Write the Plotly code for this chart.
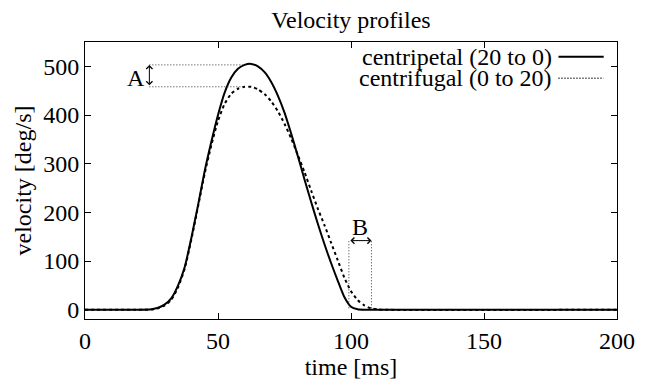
import plotly.graph_objects as go

# ---- data ----
t_cp = [0, 20, 25, 27.5, 30, 32.5, 35, 37.5, 40, 42.5, 45, 47.5, 50, 52.5, 55, 57.5, 60,
        62.5, 65, 67.5, 70, 72.5, 75, 77.5, 80, 82.5, 85, 87.5, 90, 92.5, 95, 97.5,
        100, 102.5, 105, 200]
v_cp = [0, 0, 1, 4, 11, 24, 50, 88, 148, 215, 285, 345, 400, 446, 477, 495, 503,
        505, 500, 488, 468, 440, 405, 362, 316, 268, 222, 177, 135, 96, 60, 26,
        6, 1, 0, 0]

t_cf = [0, 20, 25, 27.5, 30, 32.5, 35, 37.5, 40, 42.5, 45, 47.5, 50, 52.5, 55, 57.5, 60,
        62.5, 65, 67.5, 70, 72.5, 75, 77.5, 80, 82.5, 85, 87.5, 90, 92.5, 95, 97.5,
        100, 102.5, 105, 107.5, 110, 112.5, 200]
v_cf = [0, 0, 0.5, 3, 9, 21, 46, 85, 145, 212, 280, 338, 388, 423, 444, 454, 458,
        458, 453, 443, 428, 408, 382, 352, 318, 283, 245, 208, 174, 138, 102, 66,
        38, 20, 9, 3, 1, 0, 0]

x_ticks = [0, 50, 100, 150, 200]
y_ticks = [0, 100, 200, 300, 400, 500]

name_cp = "centripetal (20 to 0)"
name_cf = "centrifugal (0 to 20)"

# annotation markers
A_t, A_top, A_bot, A_end = 24.2, 503, 458, 60
A_label_t, A_label_v = 19, 477
B_left, B_right, B_v, B_base = 99.2, 107.7, 142, 3
B_label_t, B_label_v = 103.5, 170

FONT = "Liberation Serif"

fig = go.Figure()
fig.add_trace(go.Scatter(x=t_cp, y=v_cp, mode="lines", name=name_cp,
                         line=dict(color="black", width=2, shape="spline", smoothing=0.6),
                         showlegend=False))
fig.add_trace(go.Scatter(x=t_cf, y=v_cf, mode="lines", name=name_cf,
                         line=dict(color="black", width=2, dash="3px,3px", shape="spline", smoothing=0.6),
                         showlegend=False))

dot = dict(color="#333", width=1, dash="1px,2px")
# A guide lines
fig.add_shape(type="line", x0=A_t, x1=A_end, y0=A_top, y1=A_top, xref="x", yref="y", line=dot)
fig.add_shape(type="line", x0=A_t, x1=A_end, y0=A_bot, y1=A_bot, xref="x", yref="y", line=dot)
# B guide lines
fig.add_shape(type="line", x0=B_left, x1=B_left, y0=B_base, y1=B_v, xref="x", yref="y", line=dot)
fig.add_shape(type="line", x0=B_right, x1=B_right, y0=B_base, y1=B_v, xref="x", yref="y", line=dot)

# double arrows
arrow_style = dict(text="", showarrow=True, arrowside="end+start", arrowhead=4, startarrowhead=4,
                   arrowsize=1.2, startarrowsize=1.2, arrowwidth=1, arrowcolor="black",
                   standoff=0, startstandoff=0, axref="x", ayref="y", xref="x", yref="y")
fig.add_annotation(x=A_t, y=A_top, ax=A_t, ay=A_bot, **arrow_style)
fig.add_annotation(x=B_right, y=B_v, ax=B_left, ay=B_v, **arrow_style)
fig.add_annotation(x=A_label_t, y=A_label_v, text="A", showarrow=False,
                   font=dict(family=FONT, size=24, color="black"))
fig.add_annotation(x=B_label_t, y=B_label_v, text="B", showarrow=False,
                   font=dict(family=FONT, size=24, color="black"))

# manual legend (rows closer together than Plotly's legend allows)
leg_rows = [(name_cp, 0.947, dict(color="black", width=2)),
            (name_cf, 0.869, dict(color="black", width=1.5, dash="1px,2px"))]
for label, yy, ln in leg_rows:
    fig.add_annotation(x=0.882, y=yy, xref="paper", yref="paper", text=label, showarrow=False,
                       xanchor="right", yanchor="middle",
                       font=dict(family=FONT, size=24, color="black"))
    fig.add_shape(type="line", x0=0.89, x1=0.975, y0=yy, y1=yy, xref="paper", yref="paper", line=ln)

axis_common = dict(showline=True, linecolor="black", linewidth=1, mirror="ticks",
                   ticks="inside", ticklen=6, tickcolor="black", tickwidth=1,
                   showgrid=False, zeroline=False,
                   tickfont=dict(family=FONT, size=24, color="black"))

fig.update_layout(
    width=647, height=386,
    margin=dict(l=85, r=20, t=42, b=49),
    paper_bgcolor="white", plot_bgcolor="white",
    title=dict(text="Velocity profiles", x=0.5, xref="paper", xanchor="center",
               y=1 - 20 / 386, yref="container", yanchor="middle",
               font=dict(family=FONT, size=24, color="black")),
    xaxis=dict(range=[0, 200], tickvals=x_ticks, **axis_common,
               title=dict(text="time [ms]", standoff=3, font=dict(family=FONT, size=24, color="black"))),
    yaxis=dict(range=[-19, 550], tickvals=y_ticks, **axis_common,
               title=dict(text="velocity [deg/s]", standoff=4, font=dict(family=FONT, size=24, color="black"))),
)

fig.write_html("out.html")
